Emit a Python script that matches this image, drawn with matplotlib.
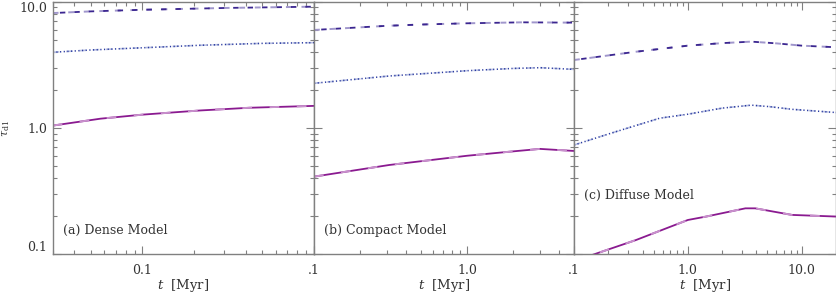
import matplotlib
matplotlib.use("Agg")
import matplotlib.pyplot as plt
from matplotlib.ticker import FixedLocator, FixedFormatter, LogLocator, NullFormatter

plt.rcParams['font.family'] = ['DejaVu Serif']
plt.rcParams['mathtext.fontset'] = 'dejavuserif'

# ---- data (t in Myr, tau_d1) ----
# (a) Dense model
t_a_dash = [0.03, 0.05, 0.1, 0.32, 1.0]
tau_a_dash = [8.1, 8.35, 8.6, 8.9, 9.1]
t_a_dot = [0.03, 0.05, 0.1, 0.216, 0.5, 1.0]
tau_a_dot = [3.96, 4.13, 4.3, 4.5, 4.66, 4.72]
t_a_sol = [0.03, 0.057, 0.1, 0.216, 0.42, 1.0]
tau_a_sol = [1.04, 1.18, 1.27, 1.37, 1.44, 1.49]

# (b) Compact model
t_b_dash = [0.1, 0.3, 0.5, 1.0, 2.3, 5.0]
tau_b_dash = [5.95, 6.42, 6.57, 6.72, 6.84, 6.8]
t_b_dot = [0.1, 0.31, 1.0, 2.0, 3.0, 5.0]
tau_b_dot = [2.25, 2.57, 2.83, 2.95, 2.99, 2.9]
t_b_sol = [0.1, 0.31, 1.0, 2.0, 3.0, 5.0]
tau_b_sol = [0.41, 0.507, 0.60, 0.65, 0.68, 0.655]

# (c) Diffuse model
t_c_dash = [0.1, 0.35, 1.0, 2.0, 3.6, 6.0, 10.0, 20.0]
tau_c_dash = [3.44, 4.0, 4.47, 4.68, 4.81, 4.66, 4.47, 4.34]
t_c_dot = [0.1, 0.207, 0.565, 1.0, 2.0, 3.6, 5.2, 8.2, 20.0]
tau_c_dot = [0.73, 0.90, 1.19, 1.28, 1.43, 1.51, 1.47, 1.40, 1.32]
t_c_sol = [0.1, 0.153, 0.35, 1.0, 1.45, 3.2, 3.9, 8.2, 20.0]
tau_c_sol = [0.088, 0.1, 0.129, 0.186, 0.198, 0.23, 0.23, 0.204, 0.198]

panel_names = ["(a) Dense Model", "(b) Compact Model", "(c) Diffuse Model"]
xlims = [(0.03, 1.0), (0.1, 5.0), (0.1, 20.0)]
xtick_pos = [[0.1, 1.0], [0.1, 1.0], [0.1, 1.0, 10.0]]
xtick_lab = [["0.1", ""], [".1", "1.0"], [".1", "1.0", "10.0"]]
ytick_pos = [0.1, 1.0, 10.0]
ytick_lab = ["0.1", "1.0", "10.0"]

series = [
    [(t_a_dash, tau_a_dash), (t_a_dot, tau_a_dot), (t_a_sol, tau_a_sol)],
    [(t_b_dash, tau_b_dash), (t_b_dot, tau_b_dot), (t_b_sol, tau_b_sol)],
    [(t_c_dash, tau_c_dash), (t_c_dot, tau_c_dot), (t_c_sol, tau_c_sol)],
]

# colours: dark line + light overlay for each style
dash_dark, dash_light = "#3b2690", "#a096cc"
dot_dark, dot_light = "#2a3aa0", "#b8c0e2"
sol_dark, sol_light = "#8a1a90", "#c890cc"
axis_col = "#808080"
text_col = "#333333"

W, H = 837, 295
fig = plt.figure(figsize=(W / 100, H / 100), dpi=100)

lefts = [52.7, 314.0, 574.0]
widths = [261.3, 260.0, 262.0]
bottom_px, top_px = 254.0, 1.5

for i in range(3):
    ax = fig.add_axes([lefts[i] / W, (H - bottom_px) / H, widths[i] / W, (bottom_px - top_px) / H])
    ax.set_xscale('log')
    ax.set_yscale('log')
    ax.set_xlim(*xlims[i])
    ax.set_ylim(0.1, 10.0)

    (td, vd), (tp, vp), (ts, vs) = series[i]
    # dashed curve: alternating light and dark dashes
    ax.plot(td, vd, color=dash_light, lw=1.4, linestyle=(0, (3, 5)), dash_capstyle='butt')
    ax.plot(td, vd, color=dash_dark, lw=1.3, linestyle=(4, (3, 5)), dash_capstyle='butt')
    # dotted curve
    ax.plot(tp, vp, color=dot_light, lw=1.2, linestyle=(0, (4, 4)))
    ax.plot(tp, vp, color=dot_dark, lw=1.1, linestyle=(0, (0.8, 1.6)))
    # solid curve
    ax.plot(ts, vs, color=sol_dark, lw=1.3)
    ax.plot(ts, vs, color=sol_light, lw=1.4, linestyle=(0, (5, 9)))

    for s in ax.spines.values():
        s.set_color(axis_col)
        s.set_linewidth(1.0)

    ax.xaxis.set_major_locator(FixedLocator(xtick_pos[i]))
    ax.xaxis.set_major_formatter(FixedFormatter(xtick_lab[i]))
    ax.xaxis.set_minor_locator(LogLocator(base=10, subs=range(2, 10)))
    ax.xaxis.set_minor_formatter(NullFormatter())
    ax.yaxis.set_major_locator(FixedLocator(ytick_pos))
    ax.yaxis.set_minor_locator(LogLocator(base=10, subs=range(2, 10)))
    ax.yaxis.set_minor_formatter(NullFormatter())
    if i == 0:
        ax.yaxis.set_major_formatter(FixedFormatter(ytick_lab))
    else:
        ax.yaxis.set_major_formatter(NullFormatter())

    ax.tick_params(which='both', direction='in', top=True, right=True,
                   color=axis_col, width=0.8, labelcolor=text_col, labelsize=9)
    ax.tick_params(which='major', length=5.5)
    ax.tick_params(which='minor', length=2.8)
    ax.tick_params(axis='x', which='major', pad=7)
    ax.tick_params(axis='y', which='major', pad=4)

    if i == 0:
        # end labels sit inside the axis range, as in the original
        yt = ax.yaxis.get_major_ticks()
        yt[0].label1.set_va('bottom')
        yt[2].label1.set_va('top')

    ax.set_xlabel(r"$t$  [Myr]", color=text_col, fontsize=9.5, labelpad=0)

    ty = 0.095 if i < 2 else 0.23
    ax.text(0.04, ty, panel_names[i], transform=ax.transAxes, color=text_col,
            fontsize=9, va='center', ha='left')

fig.text(6 / W, 1 - 128 / H, r"$\tau_{\rm d1}$", rotation=90, color=text_col,
         fontsize=8, ha='center', va='center')

fig.savefig("out.png", dpi=100)
